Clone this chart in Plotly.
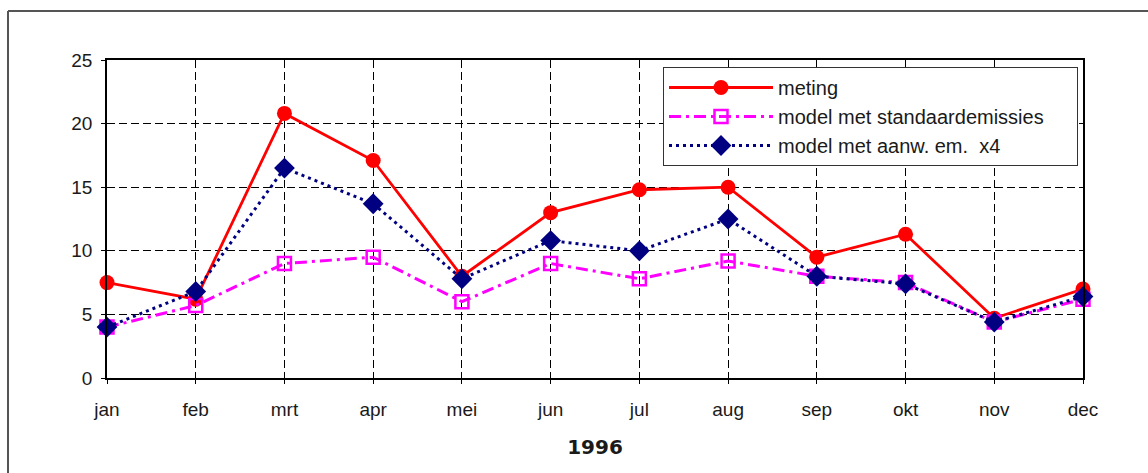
import plotly.graph_objects as go

months = ["jan", "feb", "mrt", "apr", "mei", "jun", "jul", "aug", "sep", "okt", "nov", "dec"]
meting = [7.5, 6.2, 20.8, 17.1, 8.0, 13.0, 14.8, 15.0, 9.5, 11.3, 4.7, 7.0]
model_standaard = [4.0, 5.7, 9.0, 9.5, 6.0, 9.0, 7.8, 9.2, 8.0, 7.5, 4.4, 6.2]
model_x4 = [4.0, 6.8, 16.5, 13.7, 7.8, 10.8, 10.0, 12.5, 8.0, 7.4, 4.4, 6.4]
y_ticks = [0, 5, 10, 15, 20, 25]
x_title = "1996"
names = ["meting", "model met standaardemissies", "model met aanw. em.  x4"]

W, H = 1148, 473
ML, MR, MT, MB = 107, 65, 60, 95
PW, PH = W - ML - MR, H - MT - MB

def px_x(p):
    return (p - ML) / PW

def px_y(p):
    return (H - MB - p) / PH

FONT = "Liberation Sans, Arial, sans-serif"
TXT = "#1a1a1a"
PAD = "\u00a0" * 5  # right padding inside legend box

fig = go.Figure()
fig.add_trace(go.Scatter(
    x=months, y=meting, name=names[0], mode="lines+markers", legendgroup="a",
    line=dict(color="#FF0000", width=2.8),
    marker=dict(symbol="circle", size=15, color="#FF0000"),
    cliponaxis=False,
))
fig.add_trace(go.Scatter(
    x=months, y=model_standaard, name=names[1] + PAD, mode="lines+markers", legendgroup="b",
    line=dict(color="#FF00FF", width=3, dash="12px,5px,3px,5px"),
    marker=dict(symbol="square-open", size=13, color="#FF00FF", line=dict(width=2.5, color="#FF00FF")),
    cliponaxis=False,
))
fig.add_trace(go.Scatter(
    x=months, y=model_x4, name=names[2], mode="lines+markers", legendgroup="c",
    line=dict(color="#000080", width=3, dash="3px,4px"),
    marker=dict(symbol="diamond", size=16, color="#000080"),
    cliponaxis=False,
))

fig.update_layout(
    width=W, height=H, autosize=False,
    margin=dict(l=ML, r=MR, t=MT, b=MB, pad=0),
    paper_bgcolor="white", plot_bgcolor="white",
    font=dict(family=FONT, size=19, color=TXT),
    showlegend=True,
    legend=dict(
        x=px_x(663), y=px_y(67), xanchor="left", yanchor="top",
        bgcolor="white", bordercolor="#333333", borderwidth=1,
        font=dict(family=FONT, size=20, color=TXT),
        itemwidth=104, tracegroupgap=0, traceorder="grouped",
    ),
    xaxis=dict(
        type="category", categoryorder="array", categoryarray=months,
        range=[0, len(months) - 1],
        showline=True, linecolor="black", linewidth=1.5, mirror=True,
        showgrid=True, gridcolor="black", gridwidth=1, griddash="8px,4px",
        ticks="outside", ticklen=4, tickcolor="black", tickwidth=1,
        ticklabelstandoff=9,
        tickfont=dict(family=FONT, size=19, color=TXT),
        title=dict(text="<b>" + x_title + "</b>", standoff=21,
                   font=dict(family="DejaVu Sans, sans-serif", size=20, color=TXT)),
        zeroline=False,
    ),
    yaxis=dict(
        range=[0, 25], tickvals=y_ticks,
        showline=True, linecolor="black", linewidth=1.5, mirror=True,
        showgrid=True, gridcolor="black", gridwidth=1, griddash="8px,4px",
        ticks="outside", ticklen=4, tickcolor="black", tickwidth=1,
        ticklabelstandoff=5,
        tickfont=dict(family=FONT, size=19, color=TXT),
        zeroline=False,
    ),
    shapes=[
        dict(type="line", xref="paper", yref="paper",
             x0=px_x(8), x1=px_x(W + 5), y0=px_y(11), y1=px_y(11),
             line=dict(color="#555555", width=2), layer="above"),
        dict(type="line", xref="paper", yref="paper",
             x0=px_x(8), x1=px_x(8), y0=px_y(11), y1=px_y(H + 5),
             line=dict(color="#555555", width=2), layer="above"),
    ],
)

fig.write_html(
    "out.html",
    config={"displayModeBar": False},
    post_script="document.body.style.margin='0';document.body.style.overflow='hidden';",
)
